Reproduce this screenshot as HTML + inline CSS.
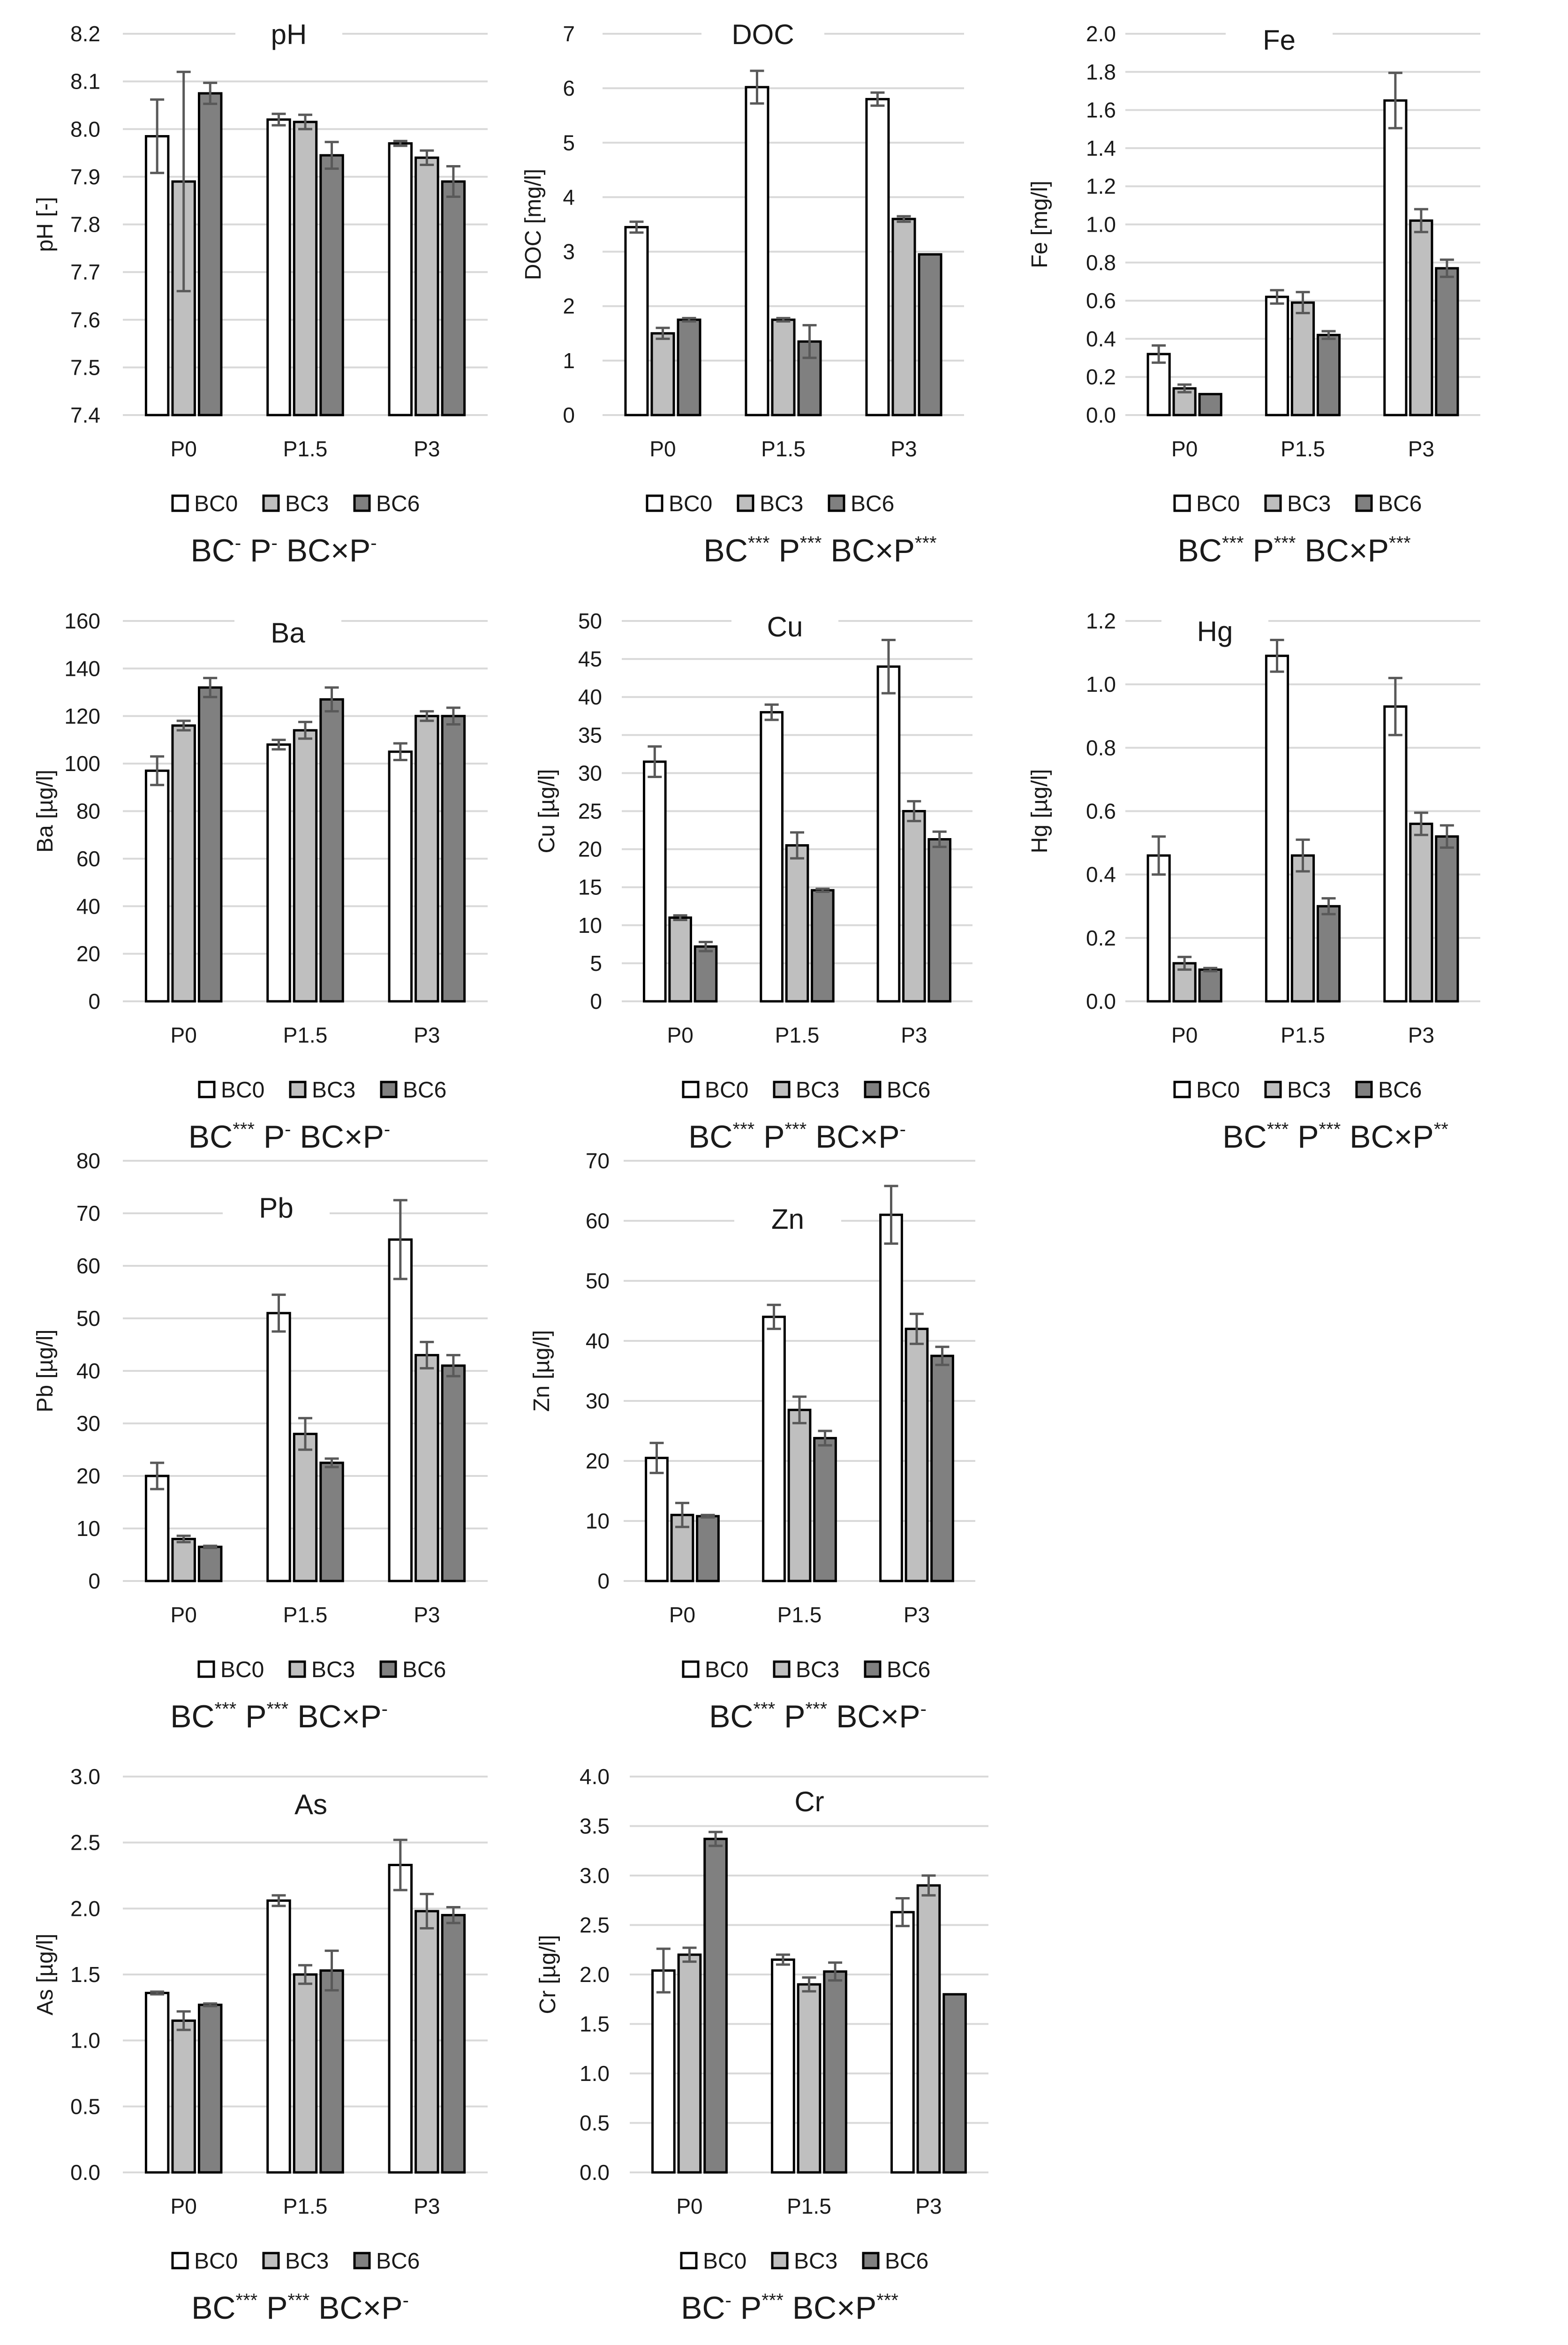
<!DOCTYPE html>
<html><head><meta charset="utf-8"><style>
html,body{margin:0;padding:0;background:#fff;overflow:hidden;width:3344px;height:5188px;}
svg{display:block;font-family:"Liberation Sans",sans-serif;}
</style></head><body>
<svg id="fig" width="3344" height="5188" viewBox="0 0 3344 5188" xmlns="http://www.w3.org/2000/svg"></svg>
<script>
const categories = ["P0","P1.5","P3"];
const seriesNames = ["BC0","BC3","BC6"];

const pH_BC0=[7.985,8.02,7.97], pH_BC3=[7.89,8.015,7.94], pH_BC6=[8.075,7.945,7.89];
const pH_E0=[0.077,0.012,0.005], pH_E3=[0.23,0.015,0.015], pH_E6=[0.022,0.028,0.032];
const pH_ticks=["7.4","7.5","7.6","7.7","7.8","7.9","8.0","8.1","8.2"];

const DOC_BC0=[3.45,6.02,5.8], DOC_BC3=[1.5,1.75,3.6], DOC_BC6=[1.75,1.35,2.95];
const DOC_E0=[0.1,0.3,0.12], DOC_E3=[0.1,0.03,0.05], DOC_E6=[0.03,0.3,0];
const DOC_ticks=["0","1","2","3","4","5","6","7"];

const Fe_BC0=[0.32,0.62,1.65], Fe_BC3=[0.14,0.59,1.02], Fe_BC6=[0.11,0.42,0.77];
const Fe_E0=[0.045,0.035,0.145], Fe_E3=[0.02,0.055,0.06], Fe_E6=[0,0.02,0.045];
const Fe_ticks=["0.0","0.2","0.4","0.6","0.8","1.0","1.2","1.4","1.6","1.8","2.0"];

const Ba_BC0=[97,108,105], Ba_BC3=[116,114,120], Ba_BC6=[132,127,120];
const Ba_E0=[6,2,3.5], Ba_E3=[2,3.5,2], Ba_E6=[4,5,3.5];
const Ba_ticks=["0","20","40","60","80","100","120","140","160"];

const Cu_BC0=[31.5,38,44], Cu_BC3=[11,20.5,25], Cu_BC6=[7.2,14.6,21.3];
const Cu_E0=[2,1,3.5], Cu_E3=[0.3,1.7,1.3], Cu_E6=[0.6,0.2,1];
const Cu_ticks=["0","5","10","15","20","25","30","35","40","45","50"];

const Hg_BC0=[0.46,1.09,0.93], Hg_BC3=[0.12,0.46,0.56], Hg_BC6=[0.1,0.3,0.52];
const Hg_E0=[0.06,0.05,0.09], Hg_E3=[0.02,0.05,0.035], Hg_E6=[0.005,0.025,0.035];
const Hg_ticks=["0.0","0.2","0.4","0.6","0.8","1.0","1.2"];

const Pb_BC0=[20,51,65], Pb_BC3=[8,28,43], Pb_BC6=[6.5,22.5,41];
const Pb_E0=[2.5,3.5,7.5], Pb_E3=[0.6,3,2.5], Pb_E6=[0.2,0.8,2];
const Pb_ticks=["0","10","20","30","40","50","60","70","80"];

const Zn_BC0=[20.5,44,61], Zn_BC3=[11,28.5,42], Zn_BC6=[10.8,23.8,37.5];
const Zn_E0=[2.5,2,4.8], Zn_E3=[2,2.2,2.5], Zn_E6=[0.2,1.2,1.5];
const Zn_ticks=["0","10","20","30","40","50","60","70"];

const As_BC0=[1.36,2.06,2.33], As_BC3=[1.15,1.5,1.98], As_BC6=[1.27,1.53,1.95];
const As_E0=[0.01,0.04,0.19], As_E3=[0.07,0.07,0.13], As_E6=[0.01,0.15,0.06];
const As_ticks=["0.0","0.5","1.0","1.5","2.0","2.5","3.0"];

const Cr_BC0=[2.04,2.15,2.63], Cr_BC3=[2.2,1.9,2.9], Cr_BC6=[3.37,2.03,1.8];
const Cr_E0=[0.22,0.05,0.14], Cr_E3=[0.07,0.07,0.1], Cr_E6=[0.07,0.09,0];
const Cr_ticks=["0.0","0.5","1.0","1.5","2.0","2.5","3.0","3.5","4.0"];

const NS="http://www.w3.org/2000/svg";
const svg=document.getElementById('fig');
function mk(tag,attrs,parent){const e=document.createElementNS(NS,tag);for(const k in attrs)e.setAttribute(k,attrs[k]);(parent||svg).appendChild(e);return e;}

const fills=["#ffffff","#bfbfbf","#808080"];
const C1=[262,1040];
const R1=[72,885],R2=[1324,2135],R3=[2475,3371],R4=[3788,4632];

const charts=[
 {key:"ph",title:"pH",ytitle:"pH [-]",v:[pH_BC0,pH_BC3,pH_BC6],e:[pH_E0,pH_E3,pH_E6],ticks:pH_ticks,col:C1,row:R1,lr:214,yt:96,tx:616,ty:74,lx:368,sx:605,sig:[["BC","-"],[" P","-"],[" BC×P","-"]]},
 {key:"doc",title:"DOC",ytitle:"DOC [mg/l]",v:[DOC_BC0,DOC_BC3,DOC_BC6],e:[DOC_E0,DOC_E3,DOC_E6],ticks:DOC_ticks,col:[1285,2056],row:R1,lr:1226,yt:1137,tx:1627,ty:74,lx:1380,sx:1749,sig:[["BC","***"],[" P","***"],[" BC×P","***"]]},
 {key:"fe",title:"Fe",ytitle:"Fe [mg/l]",v:[Fe_BC0,Fe_BC3,Fe_BC6],e:[Fe_E0,Fe_E3,Fe_E6],ticks:Fe_ticks,col:[2400,3157],row:R1,lr:2380,yt:2217,tx:2728,ty:86,lx:2505,sx:2760,sig:[["BC","***"],[" P","***"],[" BC×P","***"]]},
 {key:"ba",title:"Ba",ytitle:"Ba [µg/l]",v:[Ba_BC0,Ba_BC3,Ba_BC6],e:[Ba_E0,Ba_E3,Ba_E6],ticks:Ba_ticks,col:C1,row:R2,lr:214,yt:96,tx:614,ty:1350,lx:425,sx:617,sig:[["BC","***"],[" P","-"],[" BC×P","-"]]},
 {key:"cu",title:"Cu",ytitle:"Cu [µg/l]",v:[Cu_BC0,Cu_BC3,Cu_BC6],e:[Cu_E0,Cu_E3,Cu_E6],ticks:Cu_ticks,col:[1326,2074],row:R2,lr:1284,yt:1166,tx:1674,ty:1337,lx:1457,sx:1700,sig:[["BC","***"],[" P","***"],[" BC×P","-"]]},
 {key:"hg",title:"Hg",ytitle:"Hg [µg/l]",v:[Hg_BC0,Hg_BC3,Hg_BC6],e:[Hg_E0,Hg_E3,Hg_E6],ticks:Hg_ticks,col:[2400,3157],row:R2,lr:2380,yt:2217,tx:2591,ty:1347,lx:2505,sx:2848,sig:[["BC","***"],[" P","***"],[" BC×P","**"]]},
 {key:"pb",title:"Pb",ytitle:"Pb [µg/l]",v:[Pb_BC0,Pb_BC3,Pb_BC6],e:[Pb_E0,Pb_E3,Pb_E6],ticks:Pb_ticks,col:C1,row:R3,lr:214,yt:96,tx:589,ty:2576,lx:424,sx:595,sig:[["BC","***"],[" P","***"],[" BC×P","-"]]},
 {key:"zn",title:"Zn",ytitle:"Zn [µg/l]",v:[Zn_BC0,Zn_BC3,Zn_BC6],e:[Zn_E0,Zn_E3,Zn_E6],ticks:Zn_ticks,col:[1330,2080],row:R3,lr:1300,yt:1155,tx:1680,ty:2600,lx:1457,sx:1744,sig:[["BC","***"],[" P","***"],[" BC×P","-"]]},
 {key:"as",title:"As",ytitle:"As [µg/l]",v:[As_BC0,As_BC3,As_BC6],e:[As_E0,As_E3,As_E6],ticks:As_ticks,col:C1,row:R4,lr:214,yt:96,tx:663,ty:3848,lx:368,sx:640,sig:[["BC","***"],[" P","***"],[" BC×P","-"]]},
 {key:"cr",title:"Cr",ytitle:"Cr [µg/l]",v:[Cr_BC0,Cr_BC3,Cr_BC6],e:[Cr_E0,Cr_E3,Cr_E6],ticks:Cr_ticks,col:[1343,2108],row:R4,lr:1300,yt:1168,tx:1726,ty:3842,lx:1453,sx:1684,sig:[["BC","-"],[" P","***"],[" BC×P","***"]]}
];

charts.forEach(c=>{
  const g=mk('g',{});
  
  
  const [x0,x1]=c.col,[top,bot]=c.row;
  const tmin=parseFloat(c.ticks[0]),tmax=parseFloat(c.ticks[c.ticks.length-1]);
  const y=v=>bot-(v-tmin)/(tmax-tmin)*(bot-top);
  c.ticks.forEach(t=>{
    const yy=y(parseFloat(t));
    const gl=mk('line',{x1:x0,x2:x1,y1:yy,y2:yy,stroke:'#d9d9d9','stroke-width':4},g);
    
    
    const tl=mk('text',{x:c.lr,y:yy+16,'text-anchor':'end','font-size':46,fill:'#1a1a1a'},g);
    tl.textContent=t;
    
    
  });
  const tw=c.title.length*34+60;
  const bg=mk('rect',{x:c.tx-tw/2-50,y:c.ty-40,width:tw+100,height:80,fill:'#fff'},g);
  
  
  const tt=mk('text',{x:c.tx,y:c.ty+20,'text-anchor':'middle','font-size':60,fill:'#1a1a1a'},g);
  tt.textContent=c.title;
  
  
  const ym=(top+bot)/2;
  const yt=mk('text',{x:c.yt,y:ym,'text-anchor':'middle','font-size':48,fill:'#1a1a1a',transform:`rotate(-90 ${c.yt} ${ym}) translate(0 16)`},g);
  yt.textContent=c.ytitle;
  
  
  const gw=(x1-x0)/3, bw=gw*0.183, gap=gw*0.035;
  categories.forEach((cat,i)=>{
    const gx=x0+gw*i;
    const start=gx+(gw-(3*bw+2*gap))/2;
    c.v.forEach((ser,s)=>{
      const bx=start+s*(bw+gap);
      const by=y(ser[i]);
      const r=mk('rect',{x:bx,y:by,width:bw,height:bot-by,fill:fills[s],stroke:'#000','stroke-width':5},g);
      
      
      const err=c.e[s][i];
      if(err>0){
        const cx=bx+bw/2, ya=y(ser[i]+err), yb=y(ser[i]-err);
        const eb=mk('path',{d:`M${cx} ${ya}V${yb}M${cx-15} ${ya}H${cx+15}M${cx-15} ${yb}H${cx+15}`,stroke:'#595959','stroke-width':5,fill:'none'},g);
        
        
      }
    });
    const cl=mk('text',{x:gx+gw/2,y:bot+88,'text-anchor':'middle','font-size':46,fill:'#1a1a1a'},g);
    cl.textContent=cat;
    
    
  });
  const ly=bot+190;
  seriesNames.forEach((n,s)=>{
    const lx=c.lx+s*194;
    const lb=mk('rect',{x:lx,y:ly-18,width:32,height:32,fill:fills[s],stroke:'#000','stroke-width':5},g);
    
    
    const lt=mk('text',{x:lx+46,y:ly+15,'font-size':48,fill:'#1a1a1a'},g);
    lt.textContent=n;
    
    
  });
  const st=mk('text',{x:c.sx,y:bot+312,'text-anchor':'middle','font-size':68,fill:'#1a1a1a'},g);
  
  
  c.sig.forEach(([m,sup],k)=>{
    const a=mk('tspan',k>0?{dy:26}:{},st);a.textContent=m;
    const b=mk('tspan',{dy:-26,'font-size':40},st);b.textContent=sup;
  });
});
</script>
</body></html>
